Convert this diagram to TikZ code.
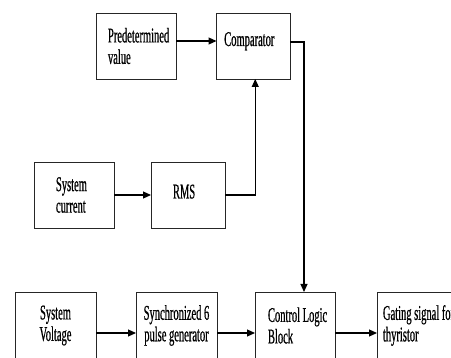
\documentclass[tikz,border=0pt]{standalone}
\usepackage{fontspec}
\newfontfamily\narrowserif[FakeStretch=0.5,FakeBold=0.6]{Liberation Serif}
\newcommand\blkfont{\narrowserif\fontsize{21}{21.5}\selectfont}
\newcommand\wsp{\kern2.6pt}
\usetikzlibrary{arrows.meta}
\begin{document}
\begin{tikzpicture}[x=1pt,y=1pt,
  blk/.style={draw=black!85, line width=0.9pt, rectangle, anchor=north west,
    inner sep=0pt, outer sep=0pt, minimum height=66pt, font=\blkfont},
  arr/.style={line width=1.2pt, -{Triangle[length=8pt,width=7pt]}}]
\useasboundingbox (0,0) rectangle (451,-358);
\clip (0,0) rectangle (451,-358);
% top row
\node[blk, minimum width=80pt, text width=56pt, align=left] (pred) at (96,-13)
  {\mbox{Predetermined}\\value};
\node[blk, minimum width=73.5pt, text width=58pt, align=left, text height=14pt, text depth=14pt] (comp) at (216.5,-13)
  {Comparator};
% middle row
\node[blk, minimum width=80pt, text width=36pt, align=left] (cur) at (34,-162)
  {System\\current};
\node[blk, minimum width=74pt, text width=30pt, align=left, text height=14pt, text depth=7pt] (rms) at (151,-162)
  {RMS};
% bottom row
\node[blk, minimum width=81pt, minimum height=67pt, text width=60pt, align=center] (volt) at (15,-292)
  {System\\Voltage};
\node[blk, minimum width=81pt, minimum height=67pt, text width=70pt, align=center] (sync) at (136,-292)
  {\mbox{Synchronized\wsp 6}\\\mbox{pulse\wsp generator}};
\node[blk, minimum width=80pt, minimum height=67pt, text width=54pt, align=left] (ctrl) at (255,-292)
  {\mbox{Control\wsp Logic}\\Block};
\node[blk, minimum width=90pt, minimum height=67pt, text width=78pt, align=left] (gate) at (377,-292)
  {\mbox{Gating\wsp signal\wsp for}\\thyristor};
% connectors
\draw[arr] ([yshift=5pt]pred.east) -- ([yshift=5pt]comp.west);
\draw[arr] ([yshift=4pt]comp.east) -| ([xshift=9pt]ctrl.north);
\draw[arr] (cur.east) -- (rms.west);
\draw[arr] (rms.east) -| ([xshift=2pt]comp.south);
\draw[arr] ([yshift=-7.5pt]volt.east) -- ([yshift=-7.5pt]sync.west);
\draw[arr] ([yshift=-7.5pt]sync.east) -- ([yshift=-7.5pt]ctrl.west);
\draw[arr] ([yshift=-7.5pt]ctrl.east) -- ([yshift=-7.5pt]gate.west);
\end{tikzpicture}
\end{document}
